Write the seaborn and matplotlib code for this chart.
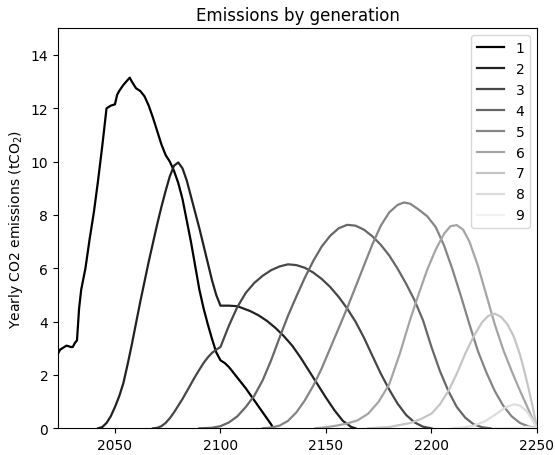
import matplotlib
matplotlib.use("Agg")
import matplotlib.pyplot as plt
import seaborn as sns
import pandas as pd
import numpy as np

# ---- data ----
gen1_years = [2023, 2024, 2025, 2026, 2027, 2028, 2029, 2030, 2031, 2032, 2033, 2034, 2036, 2038, 2040,
              2042, 2044, 2046, 2048, 2050, 2051, 2052, 2054, 2057, 2058, 2060, 2062, 2064, 2066, 2068,
              2070, 2072, 2074, 2076, 2078, 2080, 2082, 2084, 2086, 2088, 2090, 2092, 2094, 2096, 2098,
              2100, 2102, 2104, 2108, 2112, 2116, 2120, 2124, 2125]
gen1_values = [2.8, 2.95, 3.0, 3.05, 3.1, 3.08, 3.05, 3.05, 3.2, 3.3, 4.5, 5.2, 6.0, 7.1, 8.1,
               9.3, 10.6, 12.0, 12.1, 12.15, 12.5, 12.65, 12.88, 13.15, 13.0, 12.75, 12.65, 12.45, 12.1, 11.65,
               11.15, 10.65, 10.25, 10.0, 9.65, 9.2, 8.6, 7.8, 7.0, 6.1, 5.2, 4.5, 3.9, 3.35, 2.85,
               2.55, 2.45, 2.3, 1.9, 1.5, 1.05, 0.6, 0.15, 0.0]

gen2_years = [2042, 2044, 2046, 2048, 2050, 2052, 2054, 2056, 2058, 2060, 2062, 2064, 2066, 2068, 2070,
              2072, 2074, 2076, 2078, 2080, 2082, 2084, 2086, 2088, 2090, 2092, 2094, 2096, 2098, 2100,
              2104, 2108, 2110, 2114, 2118, 2122, 2126, 2130, 2134, 2138, 2142, 2146, 2150, 2154, 2158,
              2162, 2164]
gen2_values = [0.0, 0.05, 0.2, 0.45, 0.8, 1.2, 1.7, 2.4, 3.15, 3.95, 4.75, 5.5, 6.25, 6.95, 7.65,
               8.3, 8.9, 9.45, 9.85, 9.97, 9.75, 9.3, 8.7, 8.1, 7.5, 6.85, 6.2, 5.55, 5.0, 4.6,
               4.6, 4.58, 4.52, 4.4, 4.24, 4.03, 3.77, 3.46, 3.1, 2.65, 2.15, 1.65, 1.15, 0.68, 0.28,
               0.05, 0.0]

gen3_years = [2068, 2070, 2072, 2074, 2076, 2078, 2080, 2082, 2084, 2086, 2088, 2090, 2092, 2094, 2096,
              2098, 2100, 2104, 2108, 2112, 2116, 2120, 2124, 2128, 2132, 2136, 2140, 2144, 2148, 2152,
              2156, 2160, 2164, 2168, 2172, 2176, 2180, 2184, 2188, 2192, 2196, 2200]
gen3_values = [0.0, 0.02, 0.08, 0.2, 0.38, 0.6, 0.85, 1.1, 1.38, 1.66, 1.94, 2.2, 2.45, 2.66, 2.83,
               2.95, 3.05, 3.85, 4.55, 5.08, 5.45, 5.72, 5.93, 6.07, 6.15, 6.12, 6.02, 5.84, 5.6, 5.3,
               4.93, 4.5, 4.0, 3.4, 2.72, 2.05, 1.45, 0.92, 0.5, 0.22, 0.06, 0.0]

gen4_years = [2090, 2096, 2100, 2104, 2108, 2112, 2116, 2120, 2124, 2128, 2132, 2136, 2140, 2144, 2148,
              2152, 2156, 2160, 2164, 2168, 2172, 2176, 2180, 2184, 2188, 2192, 2196, 2200, 2204, 2208,
              2212, 2216, 2220, 2224, 2228]
gen4_values = [0.0, 0.02, 0.08, 0.22, 0.45, 0.8, 1.22, 1.8, 2.55, 3.4, 4.22, 4.95, 5.65, 6.28, 6.82,
               7.22, 7.5, 7.63, 7.6, 7.45, 7.2, 6.88, 6.48, 5.98, 5.42, 4.8, 4.05, 3.05, 2.15, 1.4,
               0.8, 0.4, 0.15, 0.04, 0.0]

gen5_years = [2120, 2124, 2128, 2132, 2136, 2140, 2144, 2148, 2152, 2156, 2160, 2164, 2168, 2172, 2176,
              2180, 2184, 2187, 2190, 2194, 2198, 2202, 2206, 2210, 2214, 2218, 2222, 2226, 2230, 2234,
              2238, 2242, 2246, 2250]
gen5_values = [0.0, 0.03, 0.1, 0.28, 0.6, 1.05, 1.6, 2.25, 3.0, 3.75, 4.5, 5.3, 6.1, 6.9, 7.6,
               8.1, 8.38, 8.47, 8.42, 8.2, 7.95, 7.55, 6.85, 5.95, 4.95, 3.9, 2.9, 2.1, 1.4, 0.85,
               0.45, 0.2, 0.07, 0.0]

gen6_years = [2145, 2150, 2155, 2160, 2165, 2170, 2175, 2180, 2185, 2190, 2194, 2198, 2202, 2206, 2209,
              2212, 2215, 2218, 2222, 2226, 2230, 2234, 2238, 2242, 2246, 2250]
gen6_values = [0.0, 0.04, 0.1, 0.18, 0.3, 0.55, 1.0, 1.65, 2.8, 4.1, 5.05, 5.95, 6.7, 7.3, 7.58,
               7.62, 7.45, 7.0, 6.1, 5.0, 3.9, 2.95, 2.15, 1.4, 0.7, 0.0]

gen7_years = [2170, 2180, 2190, 2195, 2200, 2204, 2208, 2212, 2214, 2216, 2220, 2224, 2227, 2230, 2233,
              2236, 2239, 2242, 2244, 2246, 2248, 2250]
gen7_values = [0.0, 0.05, 0.2, 0.35, 0.55, 0.9, 1.4, 2.05, 2.42, 2.8, 3.45, 3.98, 4.22, 4.3, 4.18,
               3.9, 3.45, 2.75, 2.15, 1.5, 0.8, 0.0]

gen8_years = [2210, 2215, 2220, 2225, 2230, 2235, 2239, 2242, 2245, 2248, 2250]
gen8_values = [0.0, 0.03, 0.1, 0.25, 0.5, 0.78, 0.9, 0.85, 0.65, 0.3, 0.0]

gen9_years = [2230, 2240, 2245, 2250]
gen9_values = [0.0, 0.03, 0.05, 0.0]

generations = ["1", "2", "3", "4", "5", "6", "7", "8", "9"]
all_years = [gen1_years, gen2_years, gen3_years, gen4_years, gen5_years,
             gen6_years, gen7_years, gen8_years, gen9_years]
all_values = [gen1_values, gen2_values, gen3_values, gen4_values, gen5_values,
              gen6_values, gen7_values, gen8_values, gen9_values]

frames = []
for g, yrs, vals in zip(generations, all_years, all_values):
    frames.append(pd.DataFrame({"year": yrs, "emissions": vals, "generation": g}))
df = pd.concat(frames, ignore_index=True)

palette = [plt.cm.Greys(v) for v in np.linspace(1.0, 0.12, len(generations))]

fig = plt.figure(figsize=(5.55, 4.56), dpi=100)
ax = fig.add_axes([0.1045, 0.0585, 0.863, 0.8772])

sns.lineplot(data=df, x="year", y="emissions", hue="generation", hue_order=generations,
             palette=palette, estimator=None, sort=False, linewidth=1.6, ax=ax)

ax.set_xlim(2023, 2250)
ax.set_ylim(0, 15)
ax.set_xticks([2050, 2100, 2150, 2200, 2250])
ax.set_yticks([0, 2, 4, 6, 8, 10, 12, 14])
ax.tick_params(labelsize=10)
ax.set_xlabel("")
ax.set_ylabel("Yearly CO2 emissions (tCO$_2$)", fontsize=10)
ax.set_title("Emissions by generation", fontsize=12)

handles, labels = ax.get_legend_handles_labels()
ax.legend(handles, labels, loc="upper right", fontsize=10)

fig.savefig("out.png", dpi=100)
